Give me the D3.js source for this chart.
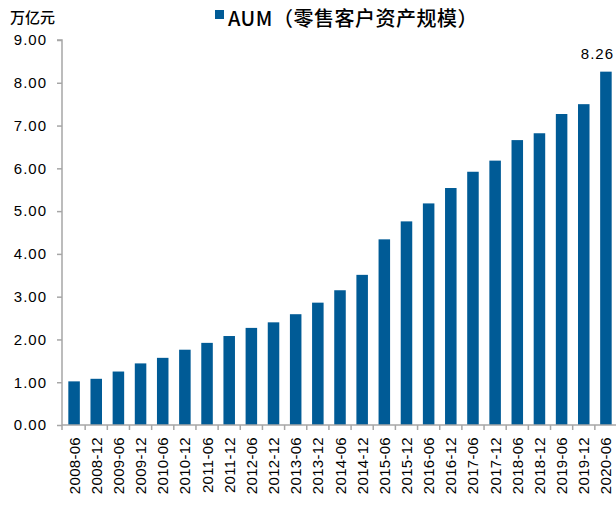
<!DOCTYPE html>
<html>
<head>
<meta charset="utf-8">
<script src="https://cdn.jsdelivr.net/npm/d3@7/dist/d3.min.js"></script>
<style>
  html, body { margin: 0; padding: 0; background: #fff; }
  svg { display: block; }
</style>
</head>
<body>
<svg id="chart" width="616" height="505"></svg>
<script>
// Retail customer AUM, half-yearly (trillion yuan)
const categories = [
  "2008-06", "2008-12", "2009-06", "2009-12", "2010-06", "2010-12",
  "2011-06", "2011-12", "2012-06", "2012-12", "2013-06", "2013-12",
  "2014-06", "2014-12", "2015-06", "2015-12", "2016-06", "2016-12",
  "2017-06", "2017-12", "2018-06", "2018-12", "2019-06", "2019-12",
  "2020-06"
];
const aum = [
  1.02, 1.08, 1.25, 1.44, 1.57, 1.76,
  1.92, 2.08, 2.27, 2.40, 2.59, 2.86,
  3.15, 3.51, 4.34, 4.76, 5.18, 5.54,
  5.92, 6.18, 6.66, 6.82, 7.27, 7.50,
  8.26
];
const yTicks = [0, 1, 2, 3, 4, 5, 6, 7, 8, 9];
const seriesName = "AUM（零售客户资产规模）";
const unitLabel = "万亿元";
const labelledIndex = aum.length - 1;

const barColor = "#005b96";
const axisColor = "#a6a6a6";
const latinFont = "'Liberation Sans', Arial, sans-serif";
const cjkFont = "'Noto Sans CJK SC', 'Noto Sans', sans-serif";

const svg = d3.select("#chart");
const plotLeft = 62, plotRight = 616, plotTop = 40, plotBottom = 425;

const x = d3.scaleBand()
  .domain(categories)
  .range([plotLeft + 1, plotRight + 1])
  .paddingInner(0.48)
  .paddingOuter(0.24);

const y = d3.scaleLinear().domain([0, 9]).range([plotBottom, plotTop]);

// bars
svg.append("g")
  .selectAll("rect")
  .data(aum)
  .join("rect")
  .attr("x", (d, i) => x(categories[i]))
  .attr("y", d => y(d))
  .attr("width", x.bandwidth())
  .attr("height", d => y(0) - y(d))
  .attr("fill", barColor);

// y axis
const yAxis = d3.axisLeft(y)
  .tickValues(yTicks)
  .tickSize(5)
  .tickPadding(10)
  .tickFormat(d3.format(".2f"));

const gy = svg.append("g")
  .attr("transform", `translate(${plotLeft},0)`)
  .call(yAxis);
gy.select(".domain").attr("stroke", axisColor).attr("stroke-width", 1.5)
  .attr("d", `M-5,${y(9)}H0V${y(0)}`);
gy.selectAll(".tick line").attr("stroke", axisColor).attr("stroke-width", 1.5);
gy.selectAll(".tick text")
  .attr("fill", "#000")
  .style("font-family", latinFont)
  .style("font-size", "15px")
  .style("letter-spacing", "1px");

// x axis: baseline with ticks on band boundaries
const step = x.step();
const x0 = x(categories[0]) - x.paddingOuter() * step;
const gx = svg.append("g");
gx.append("line")
  .attr("x1", plotLeft).attr("x2", plotRight)
  .attr("y1", y(0)).attr("y2", y(0))
  .attr("stroke", axisColor).attr("stroke-width", 1.5);
gx.selectAll("line.tick")
  .data(d3.range(categories.length + 1))
  .join("line")
  .attr("class", "tick")
  .attr("x1", i => x0 + i * step - (i === 0 ? 1 : 0))
  .attr("x2", i => x0 + i * step - (i === 0 ? 1 : 0))
  .attr("y1", y(0)).attr("y2", y(0) + 5)
  .attr("stroke", axisColor).attr("stroke-width", 1.5);

gx.selectAll("text")
  .data(categories)
  .join("text")
  .attr("transform", d => `translate(${x(d) + x.bandwidth() / 2 + 5.5},${y(0) + 12}) rotate(-90)`)
  .attr("text-anchor", "end")
  .style("font-family", latinFont)
  .style("font-size", "15px")
  .style("letter-spacing", "0.3px")
  .attr("fill", "#000")
  .text(d => d);

// value label on the latest bar
svg.append("text")
  .attr("x", 614)
  .attr("y", y(aum[labelledIndex]) - 13)
  .attr("text-anchor", "end")
  .style("font-family", latinFont)
  .style("font-size", "15px")
  .style("letter-spacing", "1px")
  .attr("fill", "#000")
  .text(d3.format(".2f")(aum[labelledIndex]));

// unit
svg.append("text")
  .attr("x", 10).attr("y", 23)
  .style("font-family", cjkFont)
  .style("font-size", "15px")
  .style("font-weight", 500)
  .attr("fill", "#000")
  .text(unitLabel);

// legend
const legend = svg.append("g").attr("transform", "translate(215,10)");
legend.append("rect")
  .attr("width", 9).attr("height", 9)
  .attr("fill", barColor);
legend.append("text")
  .attr("x", 13).attr("y", 16)
  .style("font-family", cjkFont)
  .style("font-size", "20px")
  .style("font-weight", 500)
  .style("letter-spacing", "0.5px")
  .attr("fill", "#000")
  .text(seriesName);
</script>
</body>
</html>
